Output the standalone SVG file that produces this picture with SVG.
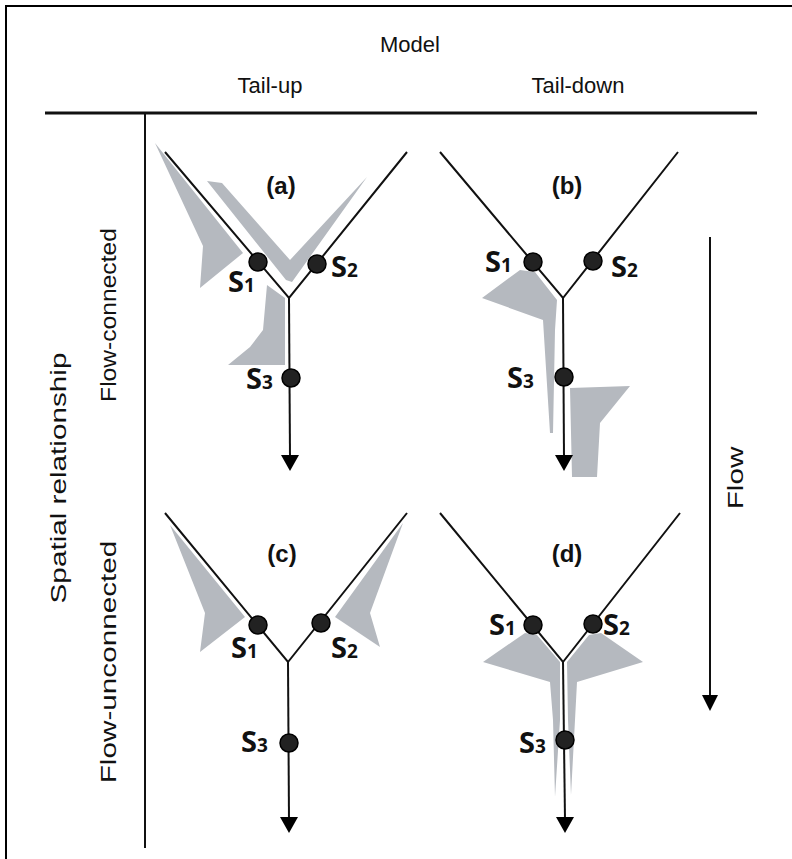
<svg xmlns="http://www.w3.org/2000/svg" width="792" height="859" viewBox="0 0 792 859">
<defs>
<style>
.hdr{font-family:"Liberation Sans",Arial,sans-serif;font-size:22px;fill:#111;}
.pl{font-family:"Liberation Sans",Arial,sans-serif;font-size:24px;font-weight:bold;fill:#111;text-anchor:middle;}
.s{font-family:"Open Sans","Liberation Sans",sans-serif;font-size:29px;font-weight:bold;fill:#111;}
.sub{font-size:19px;}
.ln{stroke:#111;stroke-width:2;fill:none;}
.sh{fill:#b5b9bf;stroke:none;}
.dot{fill:#222;stroke:#000;stroke-width:1.5;}
.ah{fill:#000;}
</style>
</defs>
<rect width="792" height="859" fill="#fff"/>
<path d="M6,859 V6 H792" fill="none" stroke="#000" stroke-width="2"/>

<g id="header">
<text class="hdr" x="410" y="52" text-anchor="middle">Model</text>
<text class="hdr" x="270" y="93" text-anchor="middle">Tail-up</text>
<text class="hdr" x="578" y="93" text-anchor="middle">Tail-down</text>
<text class="hdr" transform="translate(66,478) rotate(-90) scale(1.35,1)" text-anchor="middle">Spatial relationship</text>
<text class="hdr" transform="translate(116,315) rotate(-90) scale(1.12,1)" text-anchor="middle">Flow-connected</text>
<text class="hdr" transform="translate(116,662) rotate(-90) scale(1.35,1)" text-anchor="middle">Flow-unconnected</text>
<text class="hdr" transform="translate(743,478) rotate(-90) scale(1.35,1)" text-anchor="middle">Flow</text>
</g>

<g id="axes">
<line x1="45" y1="113" x2="757" y2="113" stroke="#111" stroke-width="2.8"/>
<line x1="145" y1="113" x2="145" y2="848" stroke="#111" stroke-width="2"/>
</g>

<g id="shading">
<polygon class="sh" points="155,143 243,253 200,288 203,246"/>
<polygon class="sh" points="207,181 222,183 290,260 367,177 292,282 286,280"/>
<polygon class="sh" points="267,285 285,298 285,365 228,365 250,347 263,330"/>
<polygon class="sh" points="520,270 535,272 557,300 555,330 553,433 550,433 543,320 482,298"/>
<polygon class="sh" points="570,388 630,386 600,423 597,477 572,477"/>
<polygon class="sh" points="170,525 245,617 200,652 205,613"/>
<polygon class="sh" points="403,523 335,617 380,647 370,613"/>
<polygon class="sh" points="525,633 537,635 560,662 560,720 555,797 553,720 550,682 483,662"/>
<polygon class="sh" points="601,633 589,635 567,662 568,720 571,795 575,720 577,682 643,662"/>
</g>

<g id="connectors">
<polyline class="ln" points="165,152 289,298 407,152"/>
<line class="ln" x1="289" y1="298" x2="290" y2="458"/>
<polygon class="ah" points="281,455 299,455 290,471"/>
<polyline class="ln" points="440,152 563,298 678,152"/>
<line class="ln" x1="563" y1="298" x2="564" y2="458"/>
<polygon class="ah" points="555,455 573,455 564,471"/>
<polyline class="ln" points="165,513 288,662 407,513"/>
<line class="ln" x1="288" y1="662" x2="289" y2="820"/>
<polygon class="ah" points="280,817 298,817 289,833"/>
<polyline class="ln" points="440,513 563,662 680,513"/>
<line class="ln" x1="563" y1="662" x2="565" y2="820"/>
<polygon class="ah" points="556,817 574,817 565,833"/>
<line class="ln" x1="710" y1="237" x2="710" y2="698"/>
<polygon class="ah" points="702,695 718,695 710,711"/>
</g>

<g id="panel-a">
<text class="pl" x="281" y="194">(a)</text>
<circle class="dot" cx="258" cy="262" r="9"/>
<circle class="dot" cx="317" cy="264" r="9"/>
<circle class="dot" cx="291" cy="378" r="9"/>
<text class="s" x="228" y="292">S<tspan class="sub">1</tspan></text>
<text class="s" x="331" y="277">S<tspan class="sub">2</tspan></text>
<text class="s" x="246" y="389">S<tspan class="sub">3</tspan></text>
</g>

<g id="panel-b">
<text class="pl" x="567" y="194">(b)</text>
<circle class="dot" cx="533" cy="262" r="9"/>
<circle class="dot" cx="593" cy="261" r="9"/>
<circle class="dot" cx="564" cy="377" r="9"/>
<text class="s" x="485" y="272">S<tspan class="sub">1</tspan></text>
<text class="s" x="611" y="277">S<tspan class="sub">2</tspan></text>
<text class="s" x="507" y="388">S<tspan class="sub">3</tspan></text>
</g>

<g id="panel-c">
<text class="pl" x="282" y="562">(c)</text>
<circle class="dot" cx="258" cy="625" r="9"/>
<circle class="dot" cx="321" cy="623" r="9"/>
<circle class="dot" cx="289" cy="743" r="9"/>
<text class="s" x="231" y="658">S<tspan class="sub">1</tspan></text>
<text class="s" x="331" y="658">S<tspan class="sub">2</tspan></text>
<text class="s" x="241" y="752">S<tspan class="sub">3</tspan></text>
</g>

<g id="panel-d">
<text class="pl" x="567" y="562">(d)</text>
<circle class="dot" cx="533" cy="625" r="9"/>
<circle class="dot" cx="593" cy="624" r="9"/>
<circle class="dot" cx="565" cy="740" r="9"/>
<text class="s" x="489" y="635">S<tspan class="sub">1</tspan></text>
<text class="s" x="603" y="635">S<tspan class="sub">2</tspan></text>
<text class="s" x="519" y="753">S<tspan class="sub">3</tspan></text>
</g>
</svg>
